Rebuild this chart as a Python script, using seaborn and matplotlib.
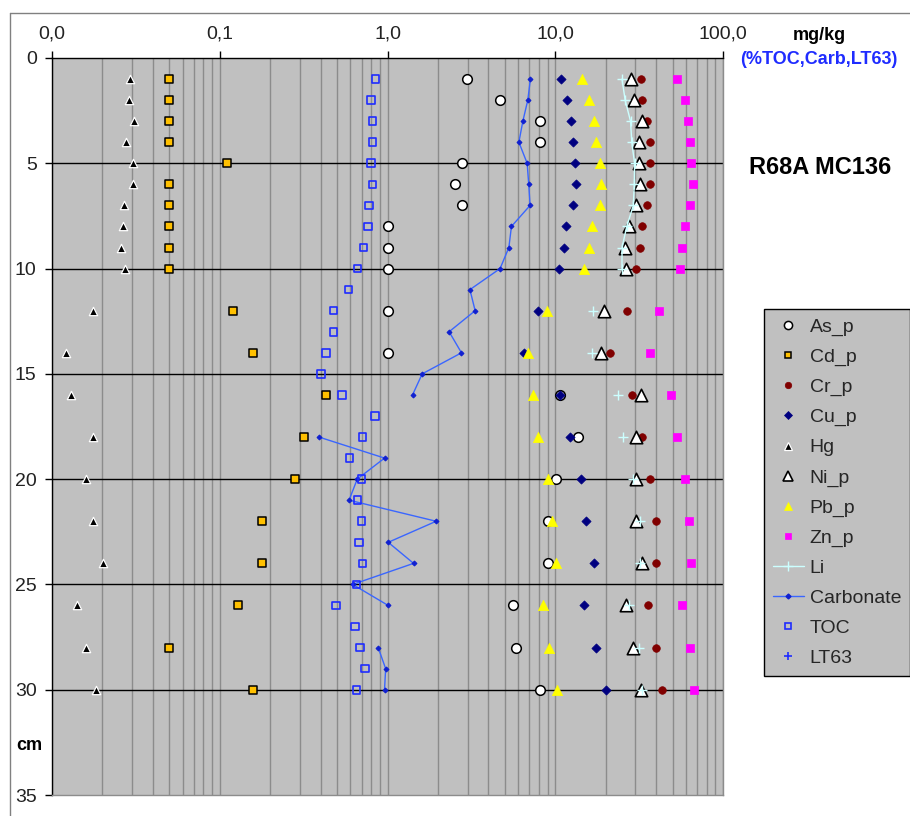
import numpy as np
import pandas as pd
import matplotlib
matplotlib.use("Agg")
import matplotlib.pyplot as plt
from matplotlib.lines import Line2D
from matplotlib.ticker import FixedLocator, LogLocator, NullFormatter, FixedFormatter
import seaborn as sns

nan = np.nan

# Sample depth in the core (cm)
depth = list(range(1, 31))

# Concentrations in mg/kg (metals) and % (TOC, carbonate); NaN = not analysed
as_p = [2.99, 4.67, 8.09, 8.09, 2.77, 2.51, 2.77, 1.0, 1.0, 1.0, nan, 1.0, nan, 1.0, nan,
        10.7, nan, 13.6, nan, 10.1, nan, 9.1, nan, 9.1, nan, 5.63, nan, 5.85, nan, 8.09]
cd_p = [0.05, 0.05, 0.05, 0.05, 0.11, 0.05, 0.05, 0.05, 0.05, 0.05, nan, 0.12, nan, 0.158, nan,
        0.43, nan, 0.32, nan, 0.28, nan, 0.178, nan, 0.178, nan, 0.128, nan, 0.05, nan, 0.158]
cr_p = [32.3, 33.1, 35.2, 36.5, 36.5, 36.5, 35.2, 32.9, 31.8, 30.3, nan, 26.7, nan, 21.3, nan,
        28.6, nan, 32.9, nan, 36.5, nan, 40.0, nan, 39.9, nan, 35.8, nan, 39.9, nan, 43.3]
cu_p = [10.8, 11.7, 12.4, 12.8, 13.1, 13.3, 12.8, 11.6, 11.2, 10.5, nan, 7.87, nan, 6.55, nan,
        10.7, nan, 12.3, nan, 14.3, nan, 15.2, nan, 17.1, nan, 14.9, nan, 17.5, nan, 20.1]
hg = [0.0292, 0.0288, 0.0308, 0.0278, 0.0303, 0.0303, 0.0269, 0.0264, 0.0259, 0.0273, nan,
      0.0175, nan, 0.0122, nan, 0.0130, nan, 0.0175, nan, 0.0160, nan, 0.0175, nan, 0.0201, nan,
      0.0140, nan, 0.0160, nan, 0.0184]
ni_p = [28.2, 29.3, 32.9, 31.6, 31.4, 32.0, 30.4, 27.5, 25.9, 26.5, nan, 19.4, nan, 18.8, nan,
        32.4, nan, 30.4, nan, 30.2, nan, 30.5, nan, 33.1, nan, 26.5, nan, 28.9, nan, 32.6]
pb_p = [14.5, 16.0, 17.1, 17.5, 18.5, 18.8, 18.4, 16.6, 15.8, 14.9, nan, 8.9, nan, 6.86, nan,
        7.35, nan, 7.87, nan, 9.03, nan, 9.58, nan, 10.1, nan, 8.47, nan, 9.24, nan, 10.2]
zn_p = [53.4, 59.3, 62.1, 63.5, 64.4, 65.9, 63.5, 59.0, 57.1, 55.1, nan, 41.7, nan, 36.5, nan,
        49.0, nan, 53.1, nan, 59.0, nan, 62.4, nan, 64.4, nan, 57.1, nan, 63.2, nan, 66.8]
li = [25.0, 26.1, 28.1, 28.6, 29.7, 29.6, 29.2, 26.7, 25.0, 25.0, nan, 16.7, nan, 16.5, nan,
      23.8, nan, 25.5, nan, 29.0, nan, 32.1, nan, 31.8, nan, 27.7, nan, 31.4, nan, 32.9]
carbonate = [7.11, 6.86, 6.41, 6.07, 6.80, 6.95, 7.08, 5.48, 5.29, 4.69, 3.10, 3.33, 2.33, 2.76,
             1.61, 1.41, nan, 0.39, 0.96, 0.66, 0.59, 1.95, 1.01, 1.43, 0.62, 1.01, nan, 0.88,
             0.975, 0.96]
toc = [0.846, 0.80, 0.816, 0.816, 0.80, 0.816, 0.773, 0.762, 0.721, 0.661, 0.586, 0.477, 0.477,
       0.43, 0.401, 0.535, 0.842, 0.711, 0.595, 0.698, 0.661, 0.698, 0.678, 0.711, 0.652, 0.493,
       0.64, 0.686, 0.734, 0.652]
lt63 = [nan] * 30

series_names = ["As_p", "Cd_p", "Cr_p", "Cu_p", "Hg", "Ni_p", "Pb_p", "Zn_p",
                "Li", "Carbonate", "TOC", "LT63"]

x_ticks = [0.01, 0.1, 1, 10, 100]
x_tick_labels = ["0,0", "0,1", "1,0", "10,0", "100,0"]
y_ticks = [0, 5, 10, 15, 20, 25, 30, 35]

sns.set_theme(style="white")
plt.rcParams["font.family"] = ["Liberation Sans", "DejaVu Sans"]

W, H = 910, 816
fig = plt.figure(figsize=(W / 100, H / 100), dpi=100)
L, R, T, B = 52, 723, 58, 795
ax = fig.add_axes([L / W, 1 - B / H, (R - L) / W, (B - T) / H])
ax.set_facecolor("#c0c0c0")
ax.set_xscale("log")
ax.set_xlim(0.01, 100)
ax.set_ylim(35, 0)

df = pd.DataFrame({"depth": depth, "As_p": as_p, "Cd_p": cd_p, "Cr_p": cr_p, "Cu_p": cu_p,
                   "Hg": hg, "Ni_p": ni_p, "Pb_p": pb_p, "Zn_p": zn_p, "Li": li,
                   "Carbonate": carbonate, "TOC": toc, "LT63": lt63})

# marker styles per series
styles = {
    "As_p": dict(marker="o", s=48, color="white", edgecolor="black", linewidth=1.1),
    "Cd_p": dict(marker="s", s=30, color="#ffc000", edgecolor="black", linewidth=1.1),
    "Cr_p": dict(marker="o", s=30, color="#800000", edgecolor="#800000", linewidth=0.5),
    "Cu_p": dict(marker="D", s=22, color="#000080", edgecolor="#000080", linewidth=0.5),
    "Hg": dict(marker="^", s=36, color="black", edgecolor="white", linewidth=0.9),
    "Ni_p": dict(marker="^", s=80, color="white", edgecolor="black", linewidth=1.2),
    "Pb_p": dict(marker="^", s=55, color="#ffff00", edgecolor="#ffff00", linewidth=0.5),
    "Zn_p": dict(marker="s", s=34, color="#ff00ff", edgecolor="#ff00ff", linewidth=0.5),
    "TOC": dict(marker="s", s=30, color="none", edgecolor="#1f2cff", linewidth=1.2),
    "LT63": dict(marker="+", s=40, color="#1f2cff", linewidth=1.2),
}
li_color = "#ccffff"
carb_color = "#3a66ff"


def runs(col):
    """Yield contiguous non-missing runs of a column, so lines break at gaps."""
    ok = df[col].notna()
    grp = (~ok).cumsum()
    for _, g in df[ok].groupby(grp[ok]):
        yield g


z = 3
for name in series_names:
    if name == "Li":
        for g in runs("Li"):
            sns.lineplot(data=g, x="Li", y="depth", sort=False, estimator=None, ax=ax,
                         color=li_color, lw=1.0, marker="+", markersize=7, mew=1.0,
                         mec=li_color, zorder=z, legend=False)
    elif name == "Carbonate":
        for g in runs("Carbonate"):
            sns.lineplot(data=g, x="Carbonate", y="depth", sort=False, estimator=None, ax=ax,
                         color=carb_color, lw=1.0, marker="D", markersize=2.5,
                         mfc="#1020d0", mec="#1020d0", zorder=z, legend=False)
    else:
        sub = df[df[name].notna()]
        if len(sub):
            sns.scatterplot(data=sub, x=name, y="depth", ax=ax, zorder=z, legend=False,
                            **styles[name])
    z += 1

ax.set_xlabel("")
ax.set_ylabel("")

# grid: vertical lines at every log step, black horizontal lines every 5 cm
ax.set_axisbelow(True)
ax.xaxis.set_major_locator(FixedLocator(x_ticks))
ax.xaxis.set_major_formatter(FixedFormatter(x_tick_labels))
ax.xaxis.set_minor_locator(LogLocator(base=10, subs=np.arange(2, 10)))
ax.xaxis.set_minor_formatter(NullFormatter())
ax.grid(True, which="both", axis="x", color="#8c8c8c", lw=1.0)
ax.grid(False, axis="y")
for yv in y_ticks[1:-1]:
    ax.axhline(yv, color="black", lw=1.0, zorder=2)

ax.xaxis.tick_top()
ax.tick_params(axis="x", which="major", top=True, bottom=False, length=5, width=1,
               color="black", labelsize=14, pad=6, labelcolor="#222222")
ax.tick_params(axis="x", which="minor", length=0)
ax.set_yticks(y_ticks)
ax.tick_params(axis="y", left=True, length=5, width=1, color="black", labelsize=14, pad=6,
               labelcolor="#222222")

for side in ("top", "left"):
    ax.spines[side].set_color("black")
    ax.spines[side].set_linewidth(1.0)
for side in ("right", "bottom"):
    ax.spines[side].set_color("#8c8c8c")
    ax.spines[side].set_linewidth(1.0)

# chart area border
fig.add_artist(Line2D([10 / W, 10 / W], [0, 1 - 13 / H], color="#808080", lw=1.0))
fig.add_artist(Line2D([10 / W, 1], [1 - 13 / H, 1 - 13 / H], color="#808080", lw=1.0))

fig.text(819 / W, 1 - 35 / H, "mg/kg", ha="center", va="center", fontsize=13,
         fontweight="bold", color="black")
fig.text(819 / W, 1 - 59 / H, "(%TOC,Carb,LT63)", ha="center", va="center", fontsize=13,
         fontweight="bold", color="#1f2cff")
fig.text(820 / W, 1 - 168 / H, "R68A MC136", ha="center", va="center", fontsize=17,
         fontweight="bold", color="black")
fig.text(29 / W, 1 - 746 / H, "cm", ha="center", va="center", fontsize=13,
         fontweight="bold", color="black")


# legend
def handle(name):
    st = styles.get(name)
    if name == "Li":
        return Line2D([], [], color=li_color, lw=1.0, marker="+", ms=7, mec=li_color)
    if name == "Carbonate":
        return Line2D([], [], color=carb_color, lw=1.0, marker="D", ms=2.5,
                      mfc="#1020d0", mec="#1020d0")
    ms = np.sqrt(st["s"]) * 0.85
    fc = st.get("color")
    return Line2D([], [], ls="", marker=st["marker"], ms=ms, mfc=fc,
                  mec=st.get("edgecolor", fc), mew=st.get("linewidth", 1.0),
                  color=fc)


leg = fig.legend([handle(n) for n in series_names], series_names, loc="upper left",
                 bbox_to_anchor=(764 / W, 1 - 309 / H), bbox_transform=fig.transFigure,
                 borderaxespad=0, fontsize=14, labelspacing=0.64, handlelength=1.6,
                 handletextpad=0.3, borderpad=0.45, frameon=True, fancybox=False,
                 facecolor="#c0c0c0", edgecolor="black", framealpha=1)
leg.get_frame().set_linewidth(1.0)

fig.savefig("out.png", dpi=100)
